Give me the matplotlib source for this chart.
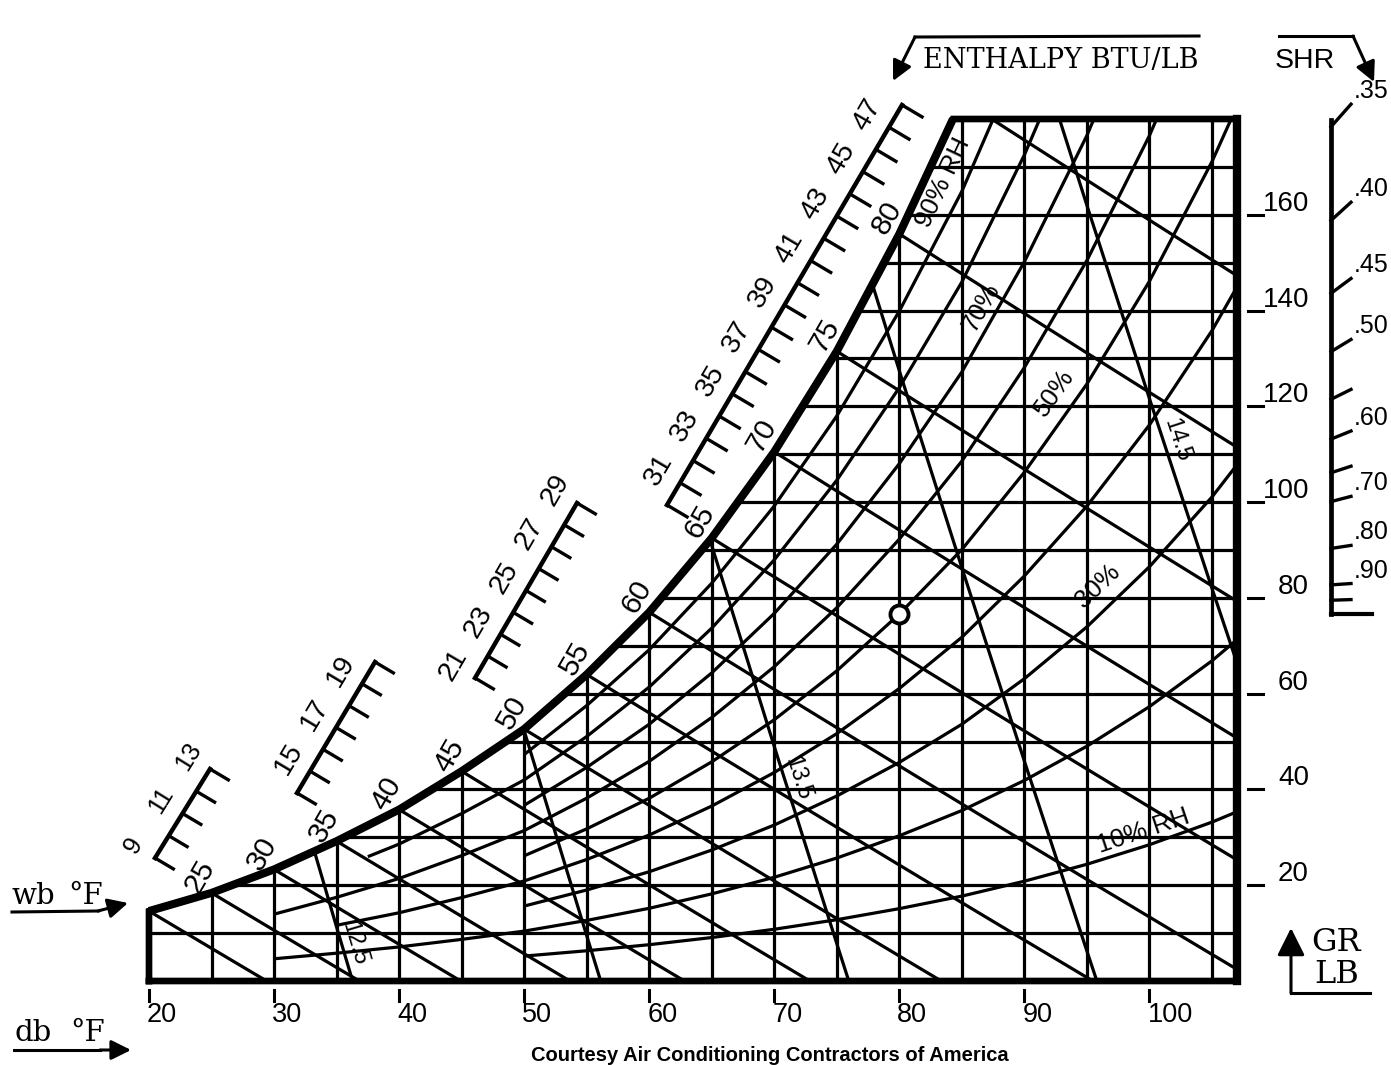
import numpy as np
import matplotlib
matplotlib.use("Agg")
import matplotlib.pyplot as plt
from matplotlib.patches import Polygon

# ---------------- chart values ----------------
# saturation humidity ratio, grains of moisture per lb of dry air, vs dry bulb °F
sat_db = [20, 25, 30, 35, 37.5, 40, 45, 50, 55, 60, 65, 70, 75, 80, 85, 90, 95, 100, 105, 110]
sat_gr = [14.6, 18.4, 23.3, 29.2, 32.5, 35.8, 43.8, 52.6, 64.0, 77.0, 92.5, 110.5,
          131.5, 156.0, 184.0, 217.8, 256.7, 302.4, 356.2, 419.5]

rh_levels = [10, 20, 30, 40, 50, 60, 70, 80, 90]
rh_start_db = [50, 30, 50, 35, 50, 30, 50, 37.5, 50]
rh_label_text = {10: "10% RH", 30: "30%", 50: "50%", 70: "70%", 90: "90% RH"}

wb_lines = [20, 25, 30, 35, 40, 45, 50, 55, 60, 65, 70, 75, 80, 85]
wb_labels = [25, 30, 35, 40, 45, 50, 55, 60, 65, 70, 75, 80]

db_grid = [25, 30, 35, 40, 45, 50, 55, 60, 65, 70, 75, 80, 85, 90, 95, 100, 105]
gr_grid = [10, 20, 30, 40, 50, 60, 70, 80, 90, 100, 110, 120, 130, 140, 150, 160, 170]
db_ticks = [20, 30, 40, 50, 60, 70, 80, 90, 100]
gr_ticks = [20, 40, 60, 80, 100, 120, 140, 160]

vol_lines = [12.5, 13.0, 13.5, 14.0, 14.5]
vol_label_text = {12.5: "12.5", 13.5: "13.5", 14.5: "14.5"}

enth_groups = [(9, 13), (14, 20), (21, 29), (30, 48)]

shr_ticks = [0.35, 0.40, 0.45, 0.50, 0.55, 0.60, 0.65, 0.70, 0.80, 0.90, 0.95]
shr_labels = [0.35, 0.40, 0.45, 0.50, 0.60, 0.70, 0.80, 0.90]

ref_db, ref_rh = 80, 50
db_min, db_max, gr_max = 20, 107, 180

# ---------------- layout ----------------
FIG_W, FIG_H = 1391, 1065
X0, X1 = 149, 1237      # pixel columns of db_min / db_max
Y0, Y1 = 981, 119       # pixel rows of 0 / gr_max
SANS = ["Liberation Sans", "DejaVu Sans"]
SERIF = ["DejaVu Serif"]
LW = 2.3

fig = plt.figure(figsize=(FIG_W / 100, FIG_H / 100), dpi=100)
fig.patch.set_facecolor("white")
ax = fig.add_axes([X0 / FIG_W, 1 - Y0 / FIG_H, (X1 - X0) / FIG_W, (Y0 - Y1) / FIG_H])
ax.set_xlim(db_min, db_max)
ax.set_ylim(0, gr_max)
ax.axis("off")
PXF = (X1 - X0) / (db_max - db_min)
PXG = (Y0 - Y1) / gr_max


def to_data(px, py):
    return db_min + (px - X0) / PXF, (Y0 - py) / PXG


def disp_angle(dt, dg):
    return np.degrees(np.arctan2(dg * PXG, dt * PXF))


# ---------------- psychrometric relations ----------------
P_ATM = 14.696
sat_db_a = np.array(sat_db, float)
sat_gr_a = np.array(sat_gr, float)
sat_w = sat_gr_a / 7000.0
sat_p = P_ATM * sat_w / (0.622 + sat_w)


def rh_curve(phi, start):
    m = sat_db_a >= start
    p = phi / 100.0 * sat_p[m]
    return sat_db_a[m], 7000 * 0.622 * p / (P_ATM - p)


def wb_curve(twb):
    ws = sat_gr[sat_db.index(twb)] / 7000.0
    t0 = twb + (1093 - 0.556 * twb) * ws / 0.24
    ts = np.array([twb] + [t for t in sat_db if twb < t < t0] + [t0], float)
    w = ((1093 - 0.556 * twb) * ws - 0.24 * (ts - twb)) / (1093 + 0.444 * ts - twb)
    return ts, 7000 * np.maximum(w, 0)


def vol_t_at(v, g):
    return v * P_ATM / (0.3704 * (1 + 1.6078 * g / 7000.0)) - 459.67


def vol_curve(v):
    t0 = vol_t_at(v, 0)
    ts = np.array([t for t in sat_db if t < t0] + [t0], float)
    w = (v * P_ATM / (0.3704 * (ts + 459.67)) - 1) / 1.6078
    return ts, 7000 * w


# ---------------- chart outline / clip region ----------------
tc = float(np.interp(gr_max, sat_gr, sat_db))
sat_part = [(t, g) for t, g in zip(sat_db, sat_gr) if t < tc] + [(tc, gr_max)]
outline = [(db_min, 0)] + sat_part + [(db_max, gr_max), (db_max, 0)]
clip = Polygon(outline, closed=True, transform=ax.transData, fc="none", ec="none")


def cline(x, y, lw=LW):
    ln, = ax.plot(x, y, color="black", lw=lw, solid_capstyle="butt", zorder=2)
    ln.set_clip_path(clip)


for d in db_grid:
    cline([d, d], [0, gr_max])
for g in gr_grid:
    cline([db_min, db_max], [g, g])
for phi, st in zip(rh_levels, rh_start_db):
    cline(*rh_curve(phi, st))
for t in wb_lines:
    cline(*wb_curve(t))
for v in vol_lines:
    cline(*vol_curve(v))

ox, oy = zip(*(outline + [outline[0]]))
ax.plot(ox, oy, color="black", lw=4.8, solid_joinstyle="miter", clip_on=False, zorder=4)
sx, sy = zip(*sat_part)
ax.plot(sx, sy, color="black", lw=5.8, solid_capstyle="butt", clip_on=False, zorder=4)
ax.plot([db_max, db_max], [0, gr_max], color="black", lw=6.0, clip_on=False, zorder=4)

# wet bulb labels along saturation curve
for t in wb_labels:
    g = sat_gr[sat_db.index(t)]
    ax.annotate(str(t), (t, g), xytext=(-12, 16), textcoords="offset pixels",
                rotation=60, ha="center", va="center", fontsize=21.5, family=SANS,
                annotation_clip=False, zorder=6)

# RH labels
RH_LABEL_POS = {90: (85.0, 21), 70: (87.6, 15), 50: (93.8, 22), 30: (97.1, 22), 10: (99.9, 15)}
for phi, st in zip(rh_levels, rh_start_db):
    if phi not in rh_label_text:
        continue
    t, d = RH_LABEL_POS[phi]
    ts, gs = rh_curve(phi, st)
    g = np.interp(t, ts, gs)
    ang = disp_angle(2, np.interp(t + 1, ts, gs) - np.interp(t - 1, ts, gs))
    th = np.radians(ang)
    ax.annotate(rh_label_text[phi], (t, g), xytext=(-np.sin(th) * d, np.cos(th) * d),
                textcoords="offset pixels", rotation=ang, rotation_mode="anchor",
                ha="center", va="center", fontsize=18.5, family=SANS, zorder=6)

# specific volume labels
VOL_LABEL_GR = {12.5: 7.0, 13.5: 41.5, 14.5: 112.0}
for v in vol_lines:
    if v not in vol_label_text:
        continue
    g = VOL_LABEL_GR[v]
    t = vol_t_at(v, g)
    ang = disp_angle(vol_t_at(v, g + 5) - vol_t_at(v, g - 5), 10) - 180
    th = np.radians(ang)
    d = 13
    ax.annotate(vol_label_text[v], (t, g), xytext=(-np.sin(th) * d, np.cos(th) * d),
                textcoords="offset pixels", rotation=ang, rotation_mode="anchor",
                ha="center", va="center", fontsize=16.5, family=SANS, zorder=6)

# ---------------- enthalpy scale ----------------
ENTH_CORNERS_PX = [((155, 858), (210, 769)), ((297, 793), (375, 662)),
                   ((475, 678), (577, 503)), ((667, 505), (902, 105))]
TICK_U = np.array([0.86, 0.51])
for (h0, h1), (A, B) in zip(enth_groups, ENTH_CORNERS_PX):
    A = np.array(A, float)
    B = np.array(B, float)
    ax.plot(*zip(to_data(*A), to_data(*B)), color="black", lw=3.2,
            solid_capstyle="projecting", clip_on=False, zorder=4)
    base_ang = np.degrees(np.arctan2(-(B[1] - A[1]), B[0] - A[0]))
    L = 25 if h1 > 40 else 23
    for h in range(h0, h1 + 1):
        P = A + (h - h0) / (h1 - h0) * (B - A)
        E = P + L * TICK_U
        ax.plot(*zip(to_data(*P), to_data(*E)), color="black", lw=2.4,
                solid_capstyle="butt", clip_on=False, zorder=4)
        if h % 2 == 1:
            C = P - 25 * TICK_U
            ax.text(*to_data(*C), str(h), rotation=base_ang, ha="center", va="center",
                    rotation_mode="anchor", fontsize=18 if h1 < 15 else 20.5,
                    family=SANS, clip_on=False, zorder=6)

# ---------------- axes ticks / labels ----------------
for g in gr_ticks:
    ax.plot([to_data(1248, 0)[0], to_data(1263, 0)[0]], [g, g], color="black", lw=2.2,
            clip_on=False)
    ax.annotate(str(g), (to_data(1309, 0)[0], g), xytext=(0, 4), textcoords="offset pixels",
                ha="right", va="baseline", fontsize=20, family=SANS, annotation_clip=False)

for d in db_ticks:
    ax.plot([d, d], [to_data(0, 990)[1], to_data(0, 1001)[1]], color="black", lw=2.2,
            clip_on=False)
    ax.annotate(str(d), (d, to_data(0, 1002)[1]), xytext=(-2, 0), textcoords="offset pixels",
                ha="left", va="top", fontsize=19.5, family=SANS, annotation_clip=False)

# ---------------- SHR scale ----------------
p_ref = ref_rh / 100.0 * float(np.interp(ref_db, sat_db, sat_p))
g_ref = 7000 * 0.622 * p_ref / (P_ATM - p_ref)
T_SCALE = to_data(1331, 0)[0]


def shr_slope(s):
    return 7000 * 0.244 * (1 - s) / (1076 * s)


top_g = g_ref + (T_SCALE - ref_db) * shr_slope(min(shr_ticks)) + 1.5
ax.plot([T_SCALE, T_SCALE], [g_ref, top_g], color="black", lw=3.4, clip_on=False)
ax.plot([T_SCALE, T_SCALE + 3.3], [g_ref, g_ref], color="black", lw=3.0, clip_on=False)
for s in shr_ticks:
    g = g_ref + (T_SCALE - ref_db) * shr_slope(s)
    g2 = g + 1.6 * shr_slope(s)
    ax.plot([T_SCALE, T_SCALE + 1.6], [g, g2], color="black", lw=2.4, clip_on=False)
    if s in shr_labels:
        ax.annotate(".%02d" % round(s * 100), (T_SCALE + 1.6, g2), xytext=(3, 1),
                    textcoords="offset pixels", ha="left", va="bottom", fontsize=18,
                    family=SANS, annotation_clip=False)

ax.plot(ref_db, g_ref, "o", ms=13, mfc="white", mec="black", mew=2.8, zorder=7)

# ---------------- titles / arrows ----------------
def fpx(x, y):
    return (x, FIG_H - y)


def ftext(x, y, s, **kw):
    fig.text(x / FIG_W, 1 - y / FIG_H, s, **kw)


def fline(pts, lw=2.2):
    xs = [p[0] / FIG_W for p in pts]
    ys = [1 - p[1] / FIG_H for p in pts]
    fig.add_artist(plt.Line2D(xs, ys, color="black", lw=lw, transform=fig.transFigure))


def farrow(p0, p1, scale=15, lw=2.2):
    ax.annotate("", xy=fpx(*p1), xytext=fpx(*p0), xycoords="figure pixels",
                textcoords="figure pixels", annotation_clip=False,
                arrowprops=dict(arrowstyle="-|>,head_length=0.8,head_width=0.4",
                                color="black", lw=lw, mutation_scale=scale,
                                shrinkA=0, shrinkB=0))


ftext(923, 68, "ENTHALPY BTU/LB", fontsize=19.5, family=SERIF, va="baseline", ha="left")
fline([(1199, 36), (915, 37)])
farrow((915, 37), (893, 81))

ftext(1275, 68, "SHR", fontsize=20.5, family=SANS, va="baseline", ha="left")
fline([(1279, 36), (1353, 36)])
farrow((1353, 36), (1374, 82))

ftext(11, 904, "wb", fontsize=21, family=SERIF, va="baseline", ha="left")
ftext(68, 904, "°F", fontsize=21, family=SERIF, va="baseline", ha="left")
fline([(12, 912), (98, 911)])
farrow((98, 911), (128, 903))

ftext(14, 1041, "db", fontsize=21, family=SERIF, va="baseline", ha="left")
ftext(70, 1041, "°F", fontsize=21, family=SERIF, va="baseline", ha="left")
fline([(14, 1050), (100, 1050)])
farrow((100, 1050), (131, 1050))

ftext(1311, 951, "GR", fontsize=23, family=SERIF, va="baseline", ha="left")
ftext(1314, 983, "LB", fontsize=23, family=SERIF, va="baseline", ha="left")
fline([(1291, 993), (1370, 993)])
farrow((1291, 993), (1291, 928), scale=21)

ftext(770, 1061, "Courtesy Air Conditioning Contractors of America", fontsize=14.5,
      fontweight="bold", family=SANS, va="baseline", ha="center")

fig.savefig("out.png", dpi=100)
